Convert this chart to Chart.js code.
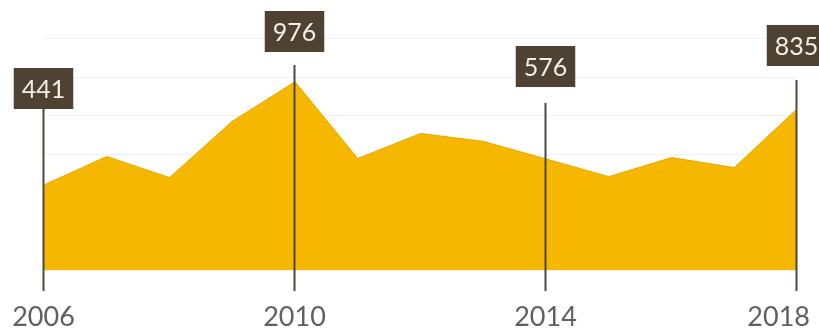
<!DOCTYPE html>
<html>
<head>
<meta charset="utf-8">
<script src="https://cdn.jsdelivr.net/npm/chart.js@4.4.1/dist/chart.umd.min.js"></script>
<style>
  html, body { margin: 0; padding: 0; background: #fff; }
</style>
</head>
<body>
<canvas id="chart" width="819" height="330"></canvas>
<script>
// Data
const years = ['2006', '2007', '2008', '2009', '2010', '2011', '2012', '2013', '2014', '2015', '2016', '2017', '2018'];
const values = [441, 589, 479, 771, 976, 578, 708, 667, 576, 484, 583, 531, 835];
const calloutYears = ['2006', '2010', '2014', '2018'];

// Callout layout (pixels, style only)
const boxTops = [68, 11, 46, 25];
const lineTops = [108, 65, 103, 80];

const callouts = {
    id: 'callouts',
    afterDatasetsDraw(chart) {
        const ctx = chart.ctx;
        const xs = chart.scales.x;
        const ys = chart.scales.y;
        const base = ys.getPixelForValue(0);
        ctx.save();
        calloutYears.forEach((yr, i) => {
            const idx = years.indexOf(yr);
            const x = Math.round(xs.getPixelForValue(idx)) - 0.5;

            // ligne verticale
            ctx.strokeStyle = '#4d4740';
            ctx.lineWidth = 2;
            ctx.beginPath();
            ctx.moveTo(x, lineTops[i]);
            ctx.lineTo(x, base + 21);
            ctx.stroke();

            // boite + valeur
            ctx.font = '25px Lato';
            const txt = String(values[idx]);
            const w = ctx.measureText(txt).width + 16;
            const h = 41;
            ctx.fillStyle = '#4f4233';
            ctx.fillRect(x - w / 2, boxTops[i], w, h);
            ctx.fillStyle = '#f4efe6';
            ctx.textAlign = 'center';
            ctx.textBaseline = 'middle';
            ctx.fillText(txt, x, boxTops[i] + h / 2 + 1);

            // annee
            ctx.font = '27px Lato';
            ctx.fillStyle = '#606060';
            ctx.textBaseline = 'alphabetic';
            const tw = ctx.measureText(yr).width;
            let cx = x;
            if (cx + tw / 2 > chart.width - 9) cx = chart.width - 9 - tw / 2;
            ctx.fillText(yr, cx, base + 56);
        });
        ctx.restore();
    }
};

const ctx = document.getElementById('chart').getContext('2d');
new Chart(ctx, {
    type: 'line',
    data: {
        labels: years,
        datasets: [{
            data: values,
            fill: 'origin',
            backgroundColor: '#f5b700',
            borderColor: '#eba800',
            borderWidth: 1,
            pointRadius: 0,
            tension: 0
        }]
    },
    options: {
        responsive: false,
        animation: false,
        layout: { padding: { left: 44, right: 22, top: 0, bottom: 60 } },
        plugins: {
            legend: { display: false },
            tooltip: { enabled: false }
        },
        scales: {
            x: { display: false, offset: false },
            y: {
                display: true,
                min: 0,
                max: 1400,
                ticks: { display: false, stepSize: 200 },
                grid: {
                    color: (c) => (c.tick.value >= 1400 ? 'rgba(0,0,0,0)' : '#f1f1f1'),
                    drawTicks: false
                },
                border: { display: false }
            }
        }
    },
    plugins: [callouts]
});
</script>
</body>
</html>
